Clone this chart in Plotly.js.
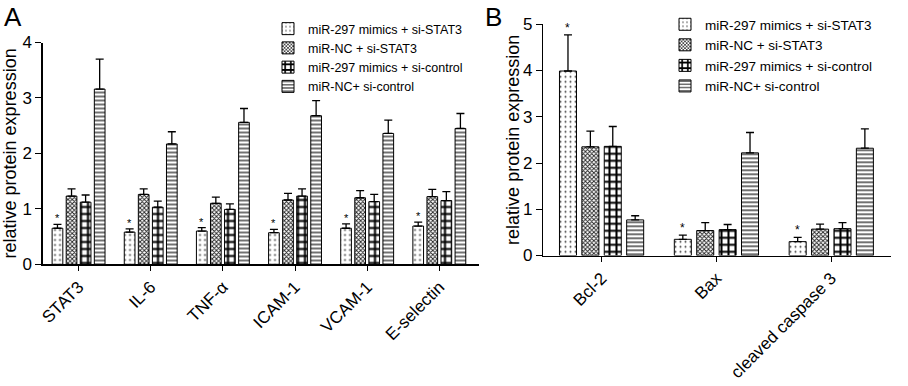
<!DOCTYPE html>
<html>
<head>
<meta charset="utf-8">
<script src="https://cdn.plot.ly/plotly-3.0.1.min.js"></script>
<style>html,body{margin:0;padding:0;background:#fff;}#chart{width:908px;height:386px;}</style>
</head>
<body>
<div id="chart"></div>
<script>
// ---- data ----
const seriesNames = ["miR-297 mimics + si-STAT3", "miR-NC + si-STAT3", "miR-297 mimics + si-control", "miR-NC+ si-control"];
const yTitle = "relative protein expression";

const catsA = ["STAT3", "IL-6", "TNF-α", "ICAM-1", "VCAM-1", "E-selectin"];
const a_mimicsSiSTAT3 = [0.65, 0.58, 0.60, 0.57, 0.65, 0.69];
const a_mimicsSiSTAT3Err = [0.07, 0.06, 0.06, 0.06, 0.08, 0.07];
const a_ncSiSTAT3 = [1.23, 1.26, 1.10, 1.16, 1.20, 1.22];
const a_ncSiSTAT3Err = [0.13, 0.10, 0.11, 0.12, 0.13, 0.13];
const a_mimicsSiControl = [1.12, 1.03, 0.99, 1.23, 1.13, 1.15];
const a_mimicsSiControlErr = [0.13, 0.11, 0.10, 0.13, 0.13, 0.16];
const a_ncSiControl = [3.16, 2.17, 2.56, 2.68, 2.36, 2.45];
const a_ncSiControlErr = [0.54, 0.22, 0.25, 0.27, 0.24, 0.27];

const catsB = ["Bcl-2", "Bax", "cleaved caspase 3"];
const b_mimicsSiSTAT3 = [3.99, 0.35, 0.30];
const b_mimicsSiSTAT3Err = [0.78, 0.09, 0.09];
const b_ncSiSTAT3 = [2.35, 0.54, 0.57];
const b_ncSiSTAT3Err = [0.34, 0.17, 0.11];
const b_mimicsSiControl = [2.36, 0.56, 0.58];
const b_mimicsSiControlErr = [0.43, 0.11, 0.13];
const b_ncSiControl = [0.77, 2.22, 2.32];
const b_ncSiControlErr = [0.09, 0.44, 0.42];

// ---- styles ----
const patterns = [
  {shape: ".", fgcolor: "#444", bgcolor: "#fff", size: 5, solidity: 0.12},
  {shape: "x", fgcolor: "#222", bgcolor: "#fff", size: 3, solidity: 0.5},
  {shape: "+", fgcolor: "#000", bgcolor: "#fff", size: 7, solidity: 0.5},
  {shape: "-", fgcolor: "#000", bgcolor: "#fff", size: 4, solidity: 0.28}
];

const A = [[a_mimicsSiSTAT3, a_mimicsSiSTAT3Err], [a_ncSiSTAT3, a_ncSiSTAT3Err], [a_mimicsSiControl, a_mimicsSiControlErr], [a_ncSiControl, a_ncSiControlErr]];
const B = [[b_mimicsSiSTAT3, b_mimicsSiSTAT3Err], [b_ncSiSTAT3, b_ncSiSTAT3Err], [b_mimicsSiControl, b_mimicsSiControlErr], [b_ncSiControl, b_ncSiControlErr]];

function mk(cats, pair, i, xa, ya, leg) {
  return {
    type: "bar", x: cats, y: pair[0], name: seriesNames[i],
    xaxis: xa, yaxis: ya, legend: leg, showlegend: true,
    marker: {color: "#fff", line: {color: "#000", width: 1}, pattern: patterns[i]},
    error_y: {type: "data", array: pair[1], arrayminus: pair[1].map(() => 0), symmetric: false,
              color: "#000", thickness: 1.3, width: 4}
  };
}
const traces = [];
A.forEach((p, i) => traces.push(mk(catsA, p, i, "x", "y", "legend")));
B.forEach((p, i) => traces.push(mk(catsB, p, i, "x2", "y2", "legend2")));

const bargap = 0.22;
const firstOffset = -(1 - bargap) / 2 + (1 - bargap) / 8;
const ann = [];
catsA.forEach((c, k) => ann.push({xref: "x", yref: "y", x: k + firstOffset, y: a_mimicsSiSTAT3[k] + a_mimicsSiSTAT3Err[k],
  text: "*", showarrow: false, yanchor: "bottom", yshift: -2, font: {size: 11, color: "#000"}}));
catsB.forEach((c, k) => ann.push({xref: "x2", yref: "y2", x: k + firstOffset, y: b_mimicsSiSTAT3[k] + b_mimicsSiSTAT3Err[k],
  text: "*", showarrow: false, yanchor: "bottom", yshift: -2, font: {size: 12, color: "#000"}}));
ann.push({xref: "paper", yref: "paper", x: 0.002, y: 1.0, xanchor: "left", yanchor: "top", text: "A", showarrow: false, font: {size: 26, color: "#000"}});
ann.push({xref: "paper", yref: "paper", x: 0.532, y: 1.0, xanchor: "left", yanchor: "top", text: "B", showarrow: false, font: {size: 26, color: "#000"}});
// panel B y-axis title
ann.push({xref: "paper", yref: "y2 domain", x: 513/908, y: 0.5, xanchor: "center", yanchor: "middle", textangle: -90,
  text: yTitle, showarrow: false, font: {size: 18, color: "#000"}});

const xBase = {showline: true, linecolor: "#000", linewidth: 1.2, ticks: "outside", ticklen: 5, tickcolor: "#000",
  tickangle: -45, showgrid: false, zeroline: false, automargin: false, tickfont: {size: 17, color: "#000"}};
const yBase = {showline: true, linecolor: "#000", linewidth: 1.2, ticks: "outside", ticklen: 6, tickcolor: "#000",
  showgrid: false, zeroline: false, automargin: false, dtick: 1, tickfont: {size: 17, color: "#000"}};

const layout = {
  width: 908, height: 386,
  margin: {l: 0, r: 0, t: 0, b: 0},
  paper_bgcolor: "#fff", plot_bgcolor: "#fff",
  font: {family: "Liberation Sans, Arial, sans-serif", color: "#000"},
  barmode: "group", bargap: bargap, bargroupgap: 0.24,
  xaxis: Object.assign({}, xBase, {domain: [42.5/908, 479/908], range: [-0.5, 5.55], anchor: "y"}),
  yaxis: Object.assign({}, yBase, {domain: [(386-264.3)/386, (386-42.5)/386], range: [0, 4], anchor: "x",
    title: {text: yTitle, font: {size: 18, color: "#000"}, standoff: 6}}),
  xaxis2: Object.assign({}, xBase, {domain: [543/908, 891/908], range: [-0.51, 2.52], anchor: "y2"}),
  yaxis2: Object.assign({}, yBase, {domain: [(386-255.5)/386, (386-24.3)/386], range: [0, 5], anchor: "x2"}),
  legend: {x: 268/908, y: 1 - 14/386, xanchor: "left", yanchor: "top", bgcolor: "rgba(0,0,0,0)",
    font: {size: 12.5, color: "#000"}, tracegroupgap: 0, itemwidth: 30},
  legend2: {x: 665/908, y: 1 - 9/386, xanchor: "left", yanchor: "top", bgcolor: "rgba(0,0,0,0)",
    font: {size: 13.5, color: "#000"}, tracegroupgap: 0, itemwidth: 30},
  annotations: ann,
  showlegend: true
};

Plotly.newPlot("chart", traces, layout, {displayModeBar: false, staticPlot: true});
</script>
</body>
</html>
